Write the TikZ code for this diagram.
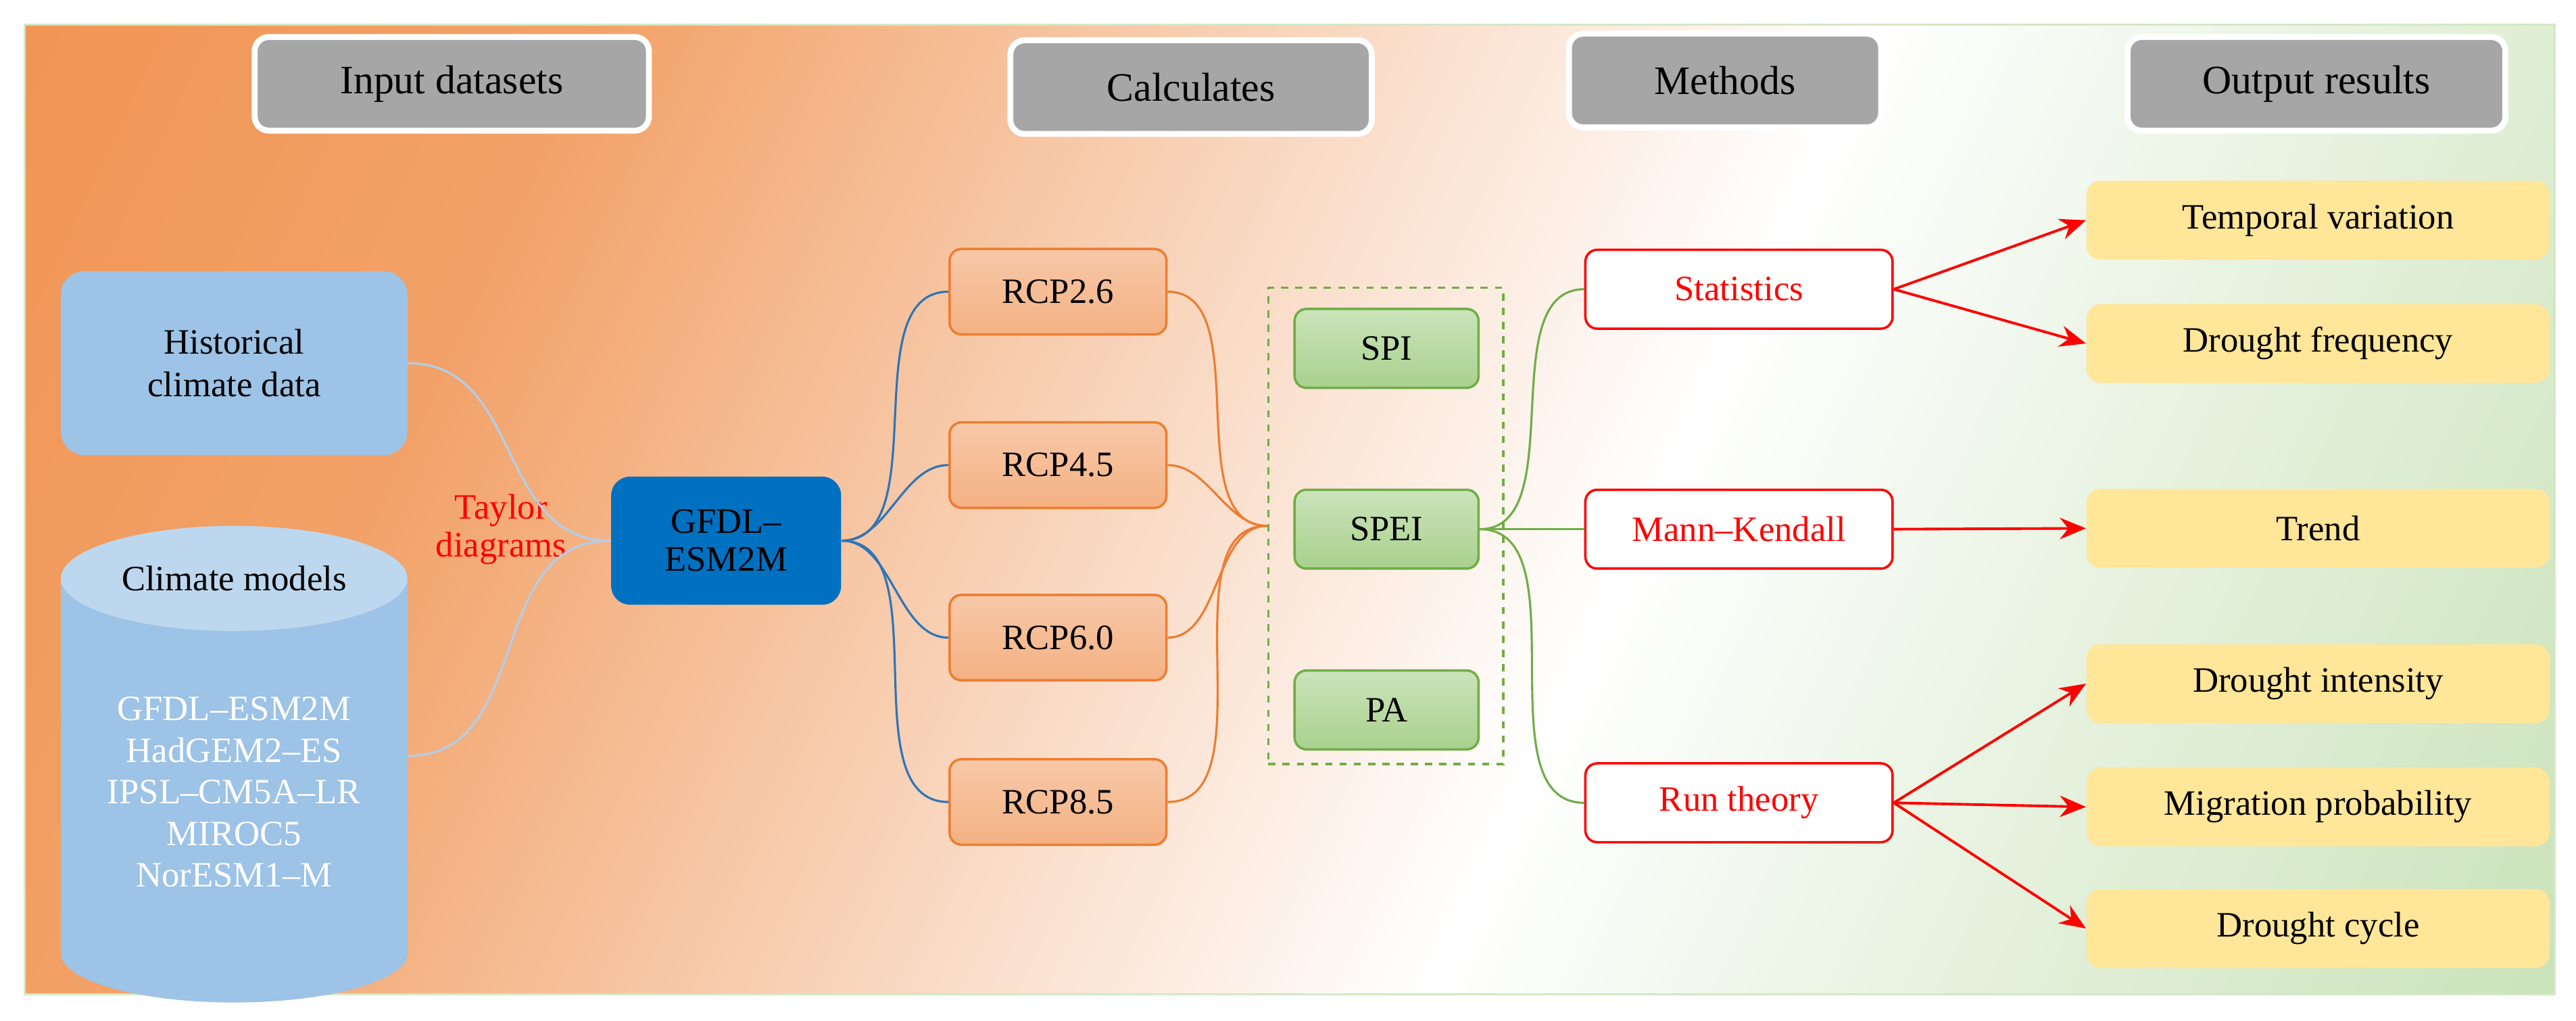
\documentclass[tikz,border=0pt]{standalone}
\usepackage{fontspec}
\setmainfont{Liberation Serif}
\usetikzlibrary{arrows.meta,shapes.geometric,shadings}
\definecolor{bgor}{HTML}{EE8438}
\definecolor{bgpe}{HTML}{F5BE98}
\definecolor{bglo}{HTML}{FBEDE3}
\definecolor{bggr}{HTML}{A8D08D}
\definecolor{hdr}{HTML}{A6A6A6}
\definecolor{lblue}{HTML}{9DC3E6}
\definecolor{llblue}{HTML}{BDD7EE}
\definecolor{dblue}{HTML}{0070C0}
\definecolor{mblue}{HTML}{2E75B6}
\definecolor{rcpf}{HTML}{F4B183}
\definecolor{rcpd}{HTML}{ED7D31}
\definecolor{gf}{HTML}{A9D18E}
\definecolor{gd}{HTML}{70AD47}
\definecolor{yel}{HTML}{FFE699}
\pgfdeclarehorizontalshading{bgsh}{100bp}{color(0bp)=(bgor); color(30bp)=(bgor!75!white); color(48bp)=(bgpe!50!white); color(58bp)=(white); color(68bp)=(bggr!25!white); color(100bp)=(bggr)}
\def\upx{0.0243cm}
\begin{document}
\begin{tikzpicture}[x=\upx,y=-\upx,
  every node/.style={font=\fontsize{15}{18}\selectfont},
  hdr/.style={draw=white,line width=2.5pt,fill=hdr,rounded corners=6pt,minimum height=57*\upx,font=\fontsize{17}{20}\selectfont},
  rcp/.style={draw=rcpd,line width=1pt,top color=rcpf!70,bottom color=rcpf,rounded corners=5pt,minimum width=132*\upx,minimum height=52*\upx},
  idx/.style={draw=gd,line width=1pt,top color=gf!60,bottom color=gf,rounded corners=5pt,minimum width=112*\upx,minimum height=48*\upx},
  meth/.style={draw=red,line width=1pt,fill=white,rounded corners=5pt,minimum width=187*\upx,minimum height=48*\upx,text=red},
  outp/.style={fill=yel,rounded corners=6pt,minimum width=282*\upx,minimum height=48*\upx},
  arr/.style={red,line width=1.1pt,-{Stealth[length=11pt,width=9pt]}},
  con/.style={line width=0.9pt}]
\useasboundingbox (0,0) rectangle (1568,621);
\fill[white] (0,0) rectangle (1568,621);
\begin{scope}
\clip (15,15) rectangle (1555,605);
\shade[shading=bgsh,shading angle=-25] (15,15) rectangle (1555,605);
\end{scope}
\draw[bggr!50,line width=1pt] (15,15) rectangle (1555,605);
% headers
\node[hdr,minimum width=240*\upx] (h1) at (275,51) {Input datasets};
\node[hdr,minimum width=220*\upx] (h2) at (725,53) {Calculates};
\node[hdr,minimum width=190*\upx] (h3) at (1050,49) {Methods};
\node[hdr,minimum width=230*\upx] (h4) at (1410,51) {Output results};
% inputs
\node[fill=lblue,rounded corners=10pt,minimum width=211*\upx,minimum height=112*\upx,align=center] (hist) at (142.5,221) {Historical\\climate data};
\fill[lblue] (37,352) rectangle (248,580);
\fill[lblue] (142.5,580) ellipse [x radius=105.5,y radius=30];
\fill[llblue] (142.5,352) ellipse [x radius=105.5,y radius=32];
\node (cm) at (142.5,352) {Climate models};
\node[text=white,align=center,font=\fontsize{15}{17.5}\selectfont] (list) at (142.5,482) {GFDL--ESM2M\\HadGEM2--ES\\IPSL--CM5A--LR\\MIROC5\\NorESM1--M};
\coordinate (cyl) at (248,460);
\node[text=red,align=center,font=\fontsize{15}{16}\selectfont] (tay) at (305,322) {Taylor\\diagrams};
\node[fill=dblue,rounded corners=8pt,minimum width=140*\upx,minimum height=78*\upx,align=center,font=\fontsize{15}{16}\selectfont] (gfdl) at (442,329) {GFDL--\\ESM2M};
% RCP
\node[rcp] (r1) at (644,177.5) {RCP2.6};
\node[rcp] (r2) at (644,283) {RCP4.5};
\node[rcp] (r3) at (644,388) {RCP6.0};
\node[rcp] (r4) at (644,488) {RCP8.5};
\node[draw=gd,dashed,line width=1pt,minimum width=143*\upx,minimum height=290*\upx] (box) at (843.5,320) {};
\node[idx] (spi) at (844,212) {SPI};
\node[idx] (spei) at (844,322) {SPEI};
\node[idx] (pa) at (844,432) {PA};
\node[meth] (m1) at (1058.5,176) {Statistics};
\node[meth] (m2) at (1058.5,322) {Mann--Kendall};
\node[meth] (m3) at (1058.5,488.5) {Run theory};
\node[outp] (o1) at (1411,134) {Temporal variation};
\node[outp] (o2) at (1411,209) {Drought frequency};
\node[outp] (o3) at (1411,321.5) {Trend};
\node[outp] (o4) at (1411,416) {Drought intensity};
\node[outp] (o5) at (1411,491) {Migration probability};
\node[outp] (o6) at (1411,565) {Drought cycle};
% connectors
\begin{scope}[con]
\draw[lblue!80!white] (hist.east) to[out=0,in=180,looseness=1.1] (gfdl.west);
\draw[lblue!80!white] (cyl) to[out=0,in=180,looseness=1.1] (gfdl.west);
\foreach \r in {r1,r2,r3,r4} {
  \draw[mblue] (gfdl.east) to[out=0,in=180,looseness=0.9] (\r.west);
  \draw[rcpd] (\r.east) to[out=0,in=180,looseness=0.9] (box.west);
}
\draw[gd] (spei.east) to[out=0,in=180,looseness=0.9] (m1.west);
\draw[gd] (spei.east) -- (m2.west);
\draw[gd] (spei.east) to[out=0,in=180,looseness=0.9] (m3.west);
\end{scope}
\draw[arr] (m1.east) -- (o1.west);
\draw[arr] (m1.east) -- (o2.west);
\draw[arr] (m2.east) -- (o3.west);
\draw[arr] (m3.east) -- (o4.west);
\draw[arr] (m3.east) -- (o5.west);
\draw[arr] (m3.east) -- (o6.west);
\end{tikzpicture}
\end{document}
